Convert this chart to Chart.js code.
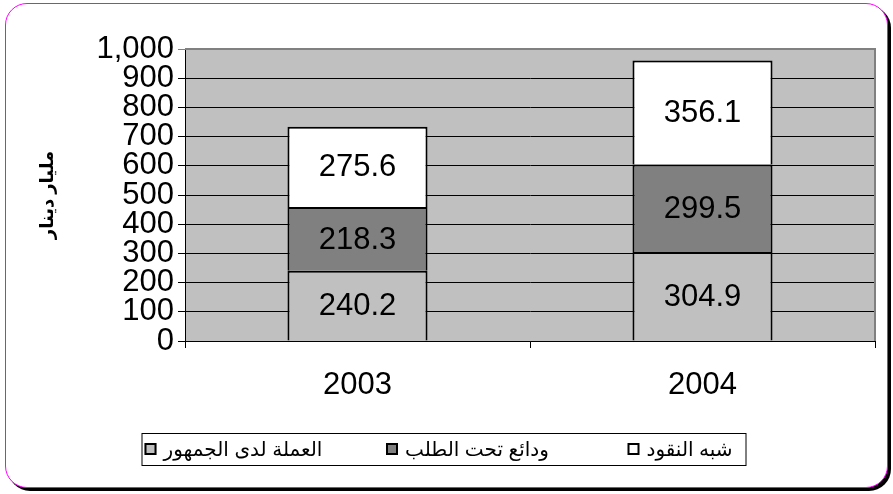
<!DOCTYPE html>
<html>
<head>
<meta charset="utf-8">
<script src="https://cdn.jsdelivr.net/npm/chart.js@4"></script>
<style>
  body { margin: 0; background: #fff; }
  #frame {
    position: absolute; left: 5px; top: 3px; width: 881px; height: 483px;
    border: 1px solid #ff00ff; border-radius: 22px;
    box-shadow: 3px 3px 0 #000; background: #fff;
  }
  #wrap { position: absolute; left: 0; top: 0; width: 893px; height: 494px; }
</style>
</head>
<body>
<div id="frame"></div>
<div id="wrap"><canvas id="myCanvas" width="893" height="494"></canvas></div>
<script>
var years = ['2003', '2004']

var currency = [240.2, 304.9]   // العملة لدى الجمهور
var demand   = [218.3, 299.5]   // ودائع تحت الطلب
var quasi    = [275.6, 356.1]   // شبه النقود

var seriesNames = ['العملة لدى الجمهور', 'ودائع تحت الطلب', 'شبه النقود']
var yTitle = 'مليار دينار'

var fontFamily = "Arial, 'Liberation Sans', 'DejaVu Sans', sans-serif"

Chart.defaults.font.family = fontFamily
Chart.defaults.color = '#000'

// grey plot area with a darker edge
var plotBg = {
    id: 'plotBg',
    beforeDraw: function(chart) {
        var a = chart.chartArea, c = chart.ctx
        c.save()
        c.fillStyle = '#c0c0c0'
        c.fillRect(a.left, a.top, a.right - a.left, a.bottom - a.top)
        c.restore()
    },
    afterDraw: function(chart) {
        var a = chart.chartArea, c = chart.ctx
        c.save()
        c.strokeStyle = '#808080'
        c.lineWidth = 2
        c.beginPath()
        c.moveTo(a.left, a.top)
        c.lineTo(a.right, a.top)
        c.lineTo(a.right, a.bottom)
        c.stroke()
        c.restore()
    }
}

// values written in the middle of every segment
var segLabels = {
    id: 'segLabels',
    afterDatasetsDraw: function(chart) {
        var c = chart.ctx
        c.save()
        c.font = '31px ' + fontFamily
        c.fillStyle = '#000'
        c.textAlign = 'center'
        c.textBaseline = 'middle'
        chart.data.datasets.forEach(function(ds, i) {
            chart.getDatasetMeta(i).data.forEach(function(bar, j) {
                c.fillText(ds.data[j].toFixed(1), bar.x, (bar.y + bar.base) / 2 + 1)
            })
        })
        c.restore()
    }
}

// boxed legend under the axis, items spread evenly
var boxLegend = {
    id: 'boxLegend',
    afterDraw: function(chart) {
        var c = chart.ctx
        var w = 604, h = 32
        var left = chart.width / 2 - w / 2 - 3
        var top = 433
        var step = 241.5
        c.save()
        c.strokeStyle = '#000'
        c.lineWidth = 1
        c.strokeRect(left + 0.5, top + 0.5, w, h)
        c.font = '20px ' + fontFamily
        c.textBaseline = 'middle'
        c.textAlign = 'left'
        chart.data.datasets.forEach(function(ds, i) {
            var x = left + 3 + i * step
            var cy = top + h / 2
            c.fillStyle = ds.backgroundColor
            c.fillRect(x, cy - 6, 12, 12)
            c.strokeStyle = '#000'
            c.lineWidth = 2
            c.strokeRect(x + 1, cy - 5, 10, 10)
            c.fillStyle = '#000'
            c.fillText(ds.label, x + 19, cy + 1)
        })
        c.restore()
    }
}

var ctx = document.getElementById('myCanvas')
var myChart = new Chart(ctx, {
    type: 'bar',
    data: {
        labels: years,
        datasets: [
            { label: seriesNames[0], data: currency, backgroundColor: '#c0c0c0', borderColor: '#000', borderWidth: 2 },
            { label: seriesNames[1], data: demand,   backgroundColor: '#808080', borderColor: '#000', borderWidth: 2 },
            { label: seriesNames[2], data: quasi,    backgroundColor: '#ffffff', borderColor: '#000', borderWidth: 2 }
        ]
    },
    options: {
        responsive: false,
        animation: false,
        layout: { padding: { top: 49, right: 18, bottom: 0, left: 0 } },
        datasets: { bar: { barPercentage: 0.406, categoryPercentage: 1 } },
        plugins: {
            legend: { display: false },
            tooltip: { enabled: false }
        },
        scales: {
            x: {
                stacked: true,
                afterFit: function(s) { s.height = 153 },
                grid: { offset: true, drawOnChartArea: false, color: '#000', tickLength: 7 },
                border: { color: '#000', width: 1 },
                ticks: { font: { size: 31 }, padding: 19, color: '#000' }
            },
            y: {
                stacked: true,
                min: 0,
                max: 1000,
                afterFit: function(s) { s.width = 185 },
                grid: {
                    color: function(c) { return c.tick && c.tick.value === 1000 ? '#808080' : '#000' },
                    tickLength: 7
                },
                border: { color: '#000', width: 1 },
                ticks: {
                    stepSize: 100,
                    autoSkip: false,
                    font: { size: 31, lineHeight: 1 },
                    color: '#000',
                    padding: 4,
                    callback: function(v) { return v.toLocaleString('en-US') }
                },
                title: {
                    display: true,
                    text: yTitle,
                    font: { size: 18, weight: 'bold' },
                    color: '#000',
                    padding: { top: 37, bottom: 0 }
                }
            }
        }
    },
    plugins: [plotBg, segLabels, boxLegend]
});
</script>
</body>
</html>
